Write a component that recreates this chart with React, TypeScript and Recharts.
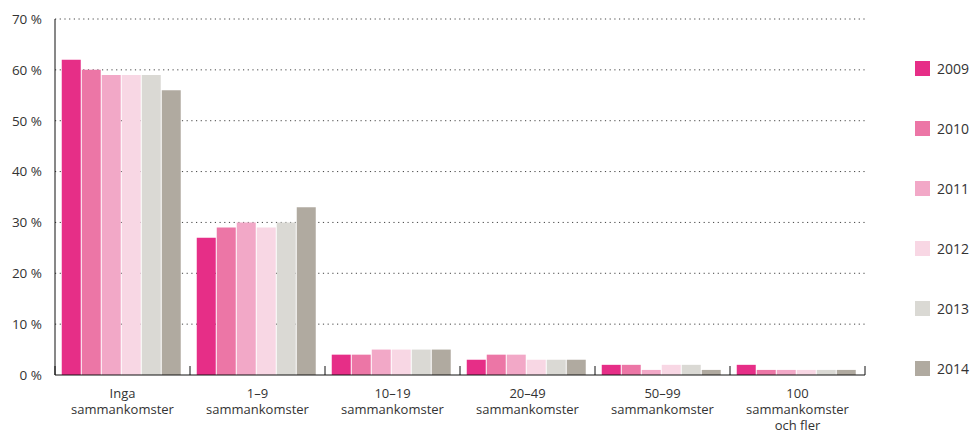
import React from "react";
import { BarChart, Bar, XAxis, YAxis, CartesianGrid } from "recharts";

const categories = [
  "Inga\nsammankomster",
  "1–9\nsammankomster",
  "10–19\nsammankomster",
  "20–49\nsammankomster",
  "50–99\nsammankomster",
  "100\nsammankomster\noch fler",
];
const years = ["2009", "2010", "2011", "2012", "2013", "2014"];
const v2009 = [62, 27, 4, 3, 2, 2];
const v2010 = [60, 29, 4, 4, 2, 1];
const v2011 = [59, 30, 5, 4, 1, 1];
const v2012 = [59, 29, 5, 3, 2, 1];
const v2013 = [59, 30, 5, 3, 2, 1];
const v2014 = [56, 33, 5, 3, 1, 1];
const yTicks = [0, 10, 20, 30, 40, 50, 60, 70];
const colors = ["#e62e87", "#ec76a6", "#f2a8c7", "#f8d7e4", "#dad9d4", "#b0aaa0"];

const series = [v2009, v2010, v2011, v2012, v2013, v2014];
const data = categories.map((c, i) => {
  const row: any = { category: c };
  years.forEach((y, k) => (row[y] = series[k][i]));
  return row;
});

const W = 975;
const H = 432;
const M = { top: 19, right: 110, left: 0, bottom: 0 };
const Y_W = 55;
const X_H = 57;
const BAND = (W - M.right - Y_W) / categories.length;
const FONT = "'Open Sans', sans-serif";
const TXT = "#333";

const XTick = (props: any) => {
  const { x, y, payload, index } = props;
  const lines = String(payload.value).split("\n");
  const isLast = index === categories.length - 1;
  return (
    <g>
      <line x1={x - BAND / 2} x2={x - BAND / 2} y1={y - 9} y2={y} stroke="#111" strokeWidth={1} />
      {isLast && <line x1={x + BAND / 2} x2={x + BAND / 2} y1={y - 9} y2={y} stroke="#111" strokeWidth={1} />}
      {lines.map((l, i) => (
        <text key={i} x={x} y={y + 23 + i * 16} textAnchor="middle" fill={TXT} fontSize={13} fontFamily={FONT}>
          {l}
        </text>
      ))}
    </g>
  );
};

const LegendBox = () => (
  <div style={{ position: "absolute", left: 915, top: 61, width: 60, height: 320 }}>
    {years.map((y, i) => (
      <div key={y} style={{ position: "absolute", left: 0, top: i * 60, height: 15, display: "flex", alignItems: "center" }}>
        <div style={{ width: 15, height: 15, background: colors[i] }} />
        <span style={{ marginLeft: 7, fontSize: 14, fontFamily: FONT, color: TXT, lineHeight: "15px" }}>{y}</span>
      </div>
    ))}
  </div>
);

export default function App() {
  return (
    <div style={{ position: "absolute", left: 0, top: 0, width: W, height: H, background: "#fff" }}>
      <BarChart width={W} height={H} data={data} margin={M} barCategoryGap="5%" barGap={1}>
        <CartesianGrid vertical={false} horizontalValues={[10, 20, 30, 40, 50, 60, 70]} stroke="#444" strokeDasharray="1.2 3.5" />
        <XAxis
          dataKey="category"
          height={X_H}
          interval={0}
          tickLine={false}
          tickSize={0}
          tickMargin={0}
          axisLine={{ stroke: "#111", strokeWidth: 1 }}
          tick={<XTick />}
        />
        <YAxis
          width={Y_W}
          domain={[0, 70]}
          ticks={yTicks}
          tickLine={false}
          tickMargin={7}
          tickFormatter={(v: number) => `${v} %`}
          axisLine={{ stroke: "#111", strokeWidth: 1 }}
          tick={{ fill: TXT, fontSize: 13.5, fontFamily: FONT }}
        />
        {years.map((y, i) => (
          <Bar key={y} dataKey={y} fill={colors[i]} isAnimationActive={false} />
        ))}
      </BarChart>
      <LegendBox />
    </div>
  );
}
